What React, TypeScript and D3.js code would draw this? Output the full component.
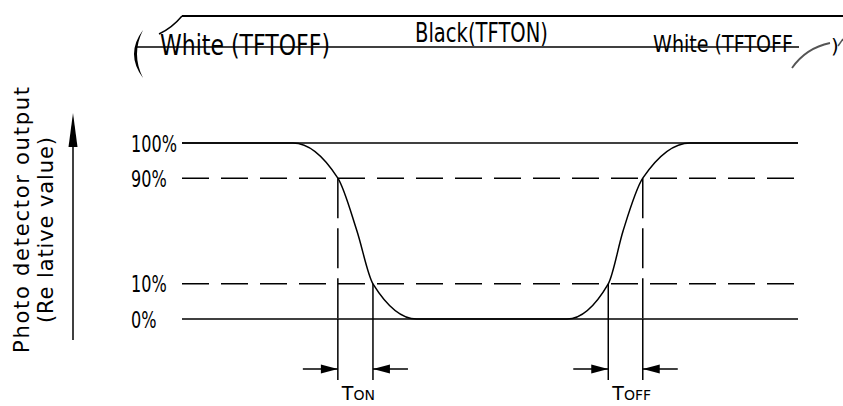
import React from 'react';
import * as d3 from 'd3';

// relative output levels drawn on the chart
const levelValues = [0, 10, 90, 100];
const levelLabels = ['0%', '10%', '90%', '100%'];
const dashedLevels = [10, 90];

// photo detector response (time in arbitrary units, value in %)
const curveTime = [0, 18, 25.3, 28.4, 31, 38.1, 62.5, 69.2, 71.6, 74.8, 82.5, 100];
const curveValue = [100, 100, 90, 50, 10, 0, 0, 10, 50, 90, 100, 100];

// response times: [start, end] crossings
const tOn = [25.3, 31];
const tOff = [69.2, 74.8];

const stateLabels = ['White (TFTOFF)', 'Black(TFTON)', 'White (TFTOFF'];
const yTitle = ['Photo detector output', '(Re lative value)'];

const FONT = "'DejaVu Sans', Verdana, sans-serif";

export default function App(): JSX.Element {
  const width = 843;
  const height = 406;

  const top = 143;
  const bottom = 319;
  const plotH = bottom - top;
  const x = d3.scaleLinear().domain([0, 100]).range([182, 798]);
  // levels are not drawn to scale: 10% and 90% sit at 1/5 and 4/5
  const y = d3
    .scaleLinear()
    .domain(levelValues)
    .range([bottom, bottom - plotH * 0.2, bottom - plotH * 0.8, top]);

  const line = d3
    .line<number>()
    .x((d, i) => x(curveTime[i]))
    .y((d) => y(d))
    .curve(d3.curveMonotoneX);

  const arrowY = 369;
  const markBottom = 380;
  const arrowLen = 35;
  const headLen = 17;
  const headW = 4.5;

  // arrow pointing at tip from direction dir (-1 from left, +1 from right)
  const arrow = (tip: number, dir: number, key: string) => (
    <g key={key}>
      <line x1={tip + dir * arrowLen} y1={arrowY} x2={tip} y2={arrowY} stroke="#000" strokeWidth={1.5} />
      <path
        d={`M${tip},${arrowY} L${tip + dir * headLen},${arrowY - headW} L${tip + dir * headLen},${arrowY + headW} Z`}
        fill="#000"
      />
    </g>
  );

  const markers = (pair: number[], name: string) => {
    const [a, b] = pair;
    const lines = pair.map((t, i) => {
      const v = curveValue[curveTime.indexOf(t)];
      const dashed = v === 90;
      return (
        <g key={name + i}>
          <line
            x1={x(t)}
            x2={x(t)}
            y1={y(v)}
            y2={y(0)}
            stroke="#000"
            strokeWidth={1.5}
            strokeDasharray={dashed ? '40,10' : undefined}
          />
          <line x1={x(t)} x2={x(t)} y1={y(0)} y2={markBottom} stroke="#000" strokeWidth={1.5} />
        </g>
      );
    });
    return (
      <g key={name}>
        {lines}
        {arrow(x(a), -1, name + 'l')}
        {arrow(x(b), 1, name + 'r')}
        <text x={x(a) + 4} y={400} fontFamily={FONT} fill="#000">
          <tspan fontSize={19}>T</tspan>
          <tspan fontSize={14}>{name}</tspan>
        </text>
      </g>
    );
  };

  return (
    <svg
      width={width}
      height={height}
      style={{ position: 'absolute', left: 0, top: 0, background: '#fff' }}
    >
      {/* state band on top */}
      <line x1={182} y1={16} x2={width} y2={16} stroke="#000" strokeWidth={2} />
      <path d="M159,34 Q172,28 182,16" fill="none" stroke="#000" strokeWidth={1.5} />
      <path d="M143,30 Q125,54 143,78 Q131,54 143,30 Z" fill="#000" />
      <line x1={135} y1={47} x2={799} y2={47} stroke="#000" strokeWidth={1.5} />
      <text
        x={160}
        y={55}
        fontFamily={FONT}
        fontSize={28}
        textLength={170}
        lengthAdjust="spacingAndGlyphs"
      >
        {stateLabels[0]}
      </text>
      <text
        x={415}
        y={42}
        fontFamily={FONT}
        fontSize={26}
        textLength={133}
        lengthAdjust="spacingAndGlyphs"
      >
        {stateLabels[1]}
      </text>
      <text
        x={653}
        y={52}
        fontFamily={FONT}
        fontSize={23}
        textLength={140}
        lengthAdjust="spacingAndGlyphs"
      >
        {stateLabels[2]}
      </text>
      <path d="M792,68 Q806,48 830,43" fill="none" stroke="#555" strokeWidth={1.8} />
      <text x={831} y={53} fontFamily={FONT} fontSize={20}>
        )
      </text>
      <path d="M838,46 L843,39" fill="none" stroke="#555" strokeWidth={1.5} />

      {/* y axis title and arrow */}
      {yTitle.map((t, i) => (
        <text
          key={t}
          transform={`translate(${i === 0 ? 29 : 53},${i === 0 ? 220 : 230}) rotate(-90)`}
          textAnchor="middle"
          fontFamily={FONT}
          fontSize={21}
          textLength={i === 0 ? 266 : 186}
          lengthAdjust="spacing"
        >
          {t}
        </text>
      ))}
      <line x1={73} y1={340} x2={73} y2={140} stroke="#000" strokeWidth={1.5} />
      <path d="M73,113 L68.5,147 L77.5,147 Z" fill="#000" />

      {/* level lines and labels */}
      {levelValues.map((v, i) => (
        <g key={v}>
          <line
            x1={x(0)}
            x2={x(100)}
            y1={y(v)}
            y2={y(v)}
            stroke="#000"
            strokeWidth={1.5}
            strokeDasharray={dashedLevels.includes(v) ? '27,12' : undefined}
          />
          <text
            transform={`translate(131,${y(v) + 8.5}) scale(0.7,1)`}
            fontFamily={FONT}
            fontSize={23}
          >
            {levelLabels[i]}
          </text>
        </g>
      ))}

      {/* response curve */}
      <path d={line(curveValue) || ''} fill="none" stroke="#000" strokeWidth={1.5} />

      {markers(tOn, 'ON')}
      {markers(tOff, 'OFF')}
    </svg>
  );
}
